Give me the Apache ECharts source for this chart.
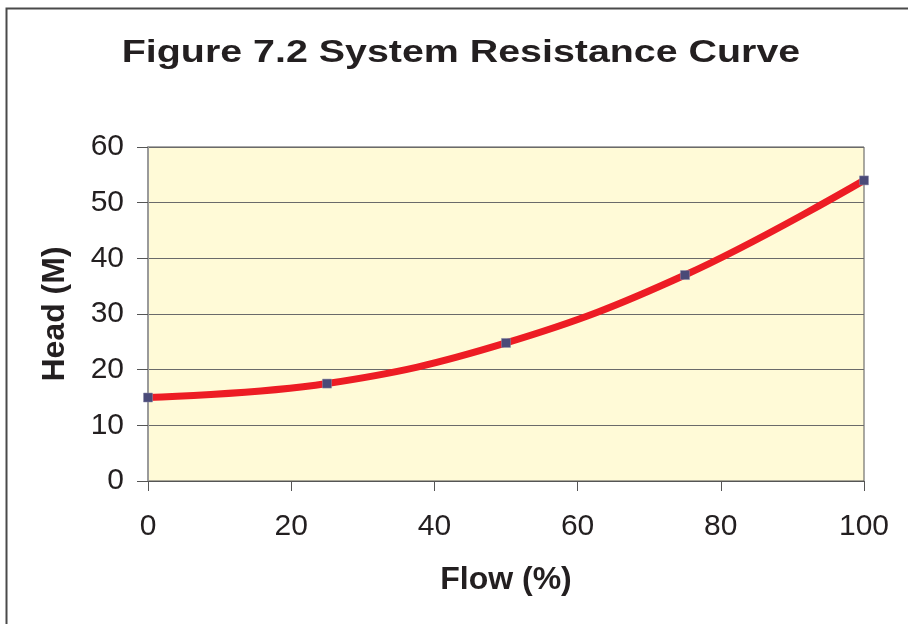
<!DOCTYPE html>
<html><head><meta charset="utf-8">
<script src="https://cdn.jsdelivr.net/npm/echarts@6/dist/echarts.min.js"></script>
<style>html,body{margin:0;padding:0;background:#fff;}#c{width:908px;height:624px;}</style>
</head><body><div id="c"></div>
<script>
const flow = [0, 25, 50, 75, 100];
const head = [15, 17.5, 24.8, 37, 54];
const xTicks = [0, 20, 40, 60, 80, 100];
const yTicks = [0, 10, 20, 30, 40, 50, 60];
const titleText = 'Figure 7.2 System Resistance Curve';

const chart = echarts.init(document.getElementById('c'), null, {renderer: 'canvas'});
const FONT = '"Liberation Sans", Arial, sans-serif';
chart.setOption({
  animation: false,
  backgroundColor: '#ffffff',
  graphic: [{
    type: 'rect', silent: true, z: 100,
    shape: {x: 6.5, y: 8.5, width: 1000, height: 1000},
    style: {fill: 'none', stroke: '#4a4a4a', lineWidth: 2}
  }, {
    type: 'text', silent: true, z: 100,
    x: 461, y: 53, scaleX: 1.25,
    style: {text: titleText, x: 0, y: 0, fontFamily: 'Liberation Sans', fontSize: 31.5, fontWeight: 'bold',
      textAlign: 'center', textVerticalAlign: 'middle', fill: '#231f20'}
  }],
  grid: {left: 148, right: 44, top: 147, bottom: 143, show: true,
    backgroundColor: '#fffad7', borderColor: '#555', borderWidth: 1},
  xAxis: {
    type: 'value', min: xTicks[0], max: xTicks[xTicks.length-1], interval: 20,
    name: 'Flow (%)', nameLocation: 'middle', nameGap: 83,
    nameTextStyle: {fontFamily: FONT, fontSize: 32, fontWeight: 'bold', color: '#231f20'},
    axisLine: {show: true, lineStyle: {color: '#555', width: 1}},
    axisTick: {show: true, length: 10, lineStyle: {color: '#555'}},
    axisLabel: {fontFamily: FONT, fontSize: 30, color: '#231f20', margin: 31},
    splitLine: {show: false}
  },
  yAxis: {
    type: 'value', min: yTicks[0], max: yTicks[yTicks.length-1], interval: 10,
    name: 'Head (M)', nameLocation: 'middle', nameGap: 77,
    nameTextStyle: {fontFamily: FONT, fontSize: 32, fontWeight: 'bold', color: '#231f20'},
    axisLine: {show: true, lineStyle: {color: '#9a9a9a', width: 2}},
    axisTick: {show: true, length: 11, lineStyle: {color: '#555'}},
    axisLabel: {fontFamily: FONT, fontSize: 30, color: '#231f20', margin: 24},
    splitLine: {show: true, lineStyle: {color: '#6a6a6a', width: 1}}
  },
  series: [{
    type: 'line',
    data: flow.map((f, i) => [f, head[i]]),
    smooth: 0.4,
    lineStyle: {color: '#ed1c24', width: 7},
    symbol: 'rect', symbolSize: 9,
    itemStyle: {color: '#4a4a78', borderColor: '#8a8aa8', borderWidth: 0.5},
    z: 3
  }]
});
</script></body></html>
